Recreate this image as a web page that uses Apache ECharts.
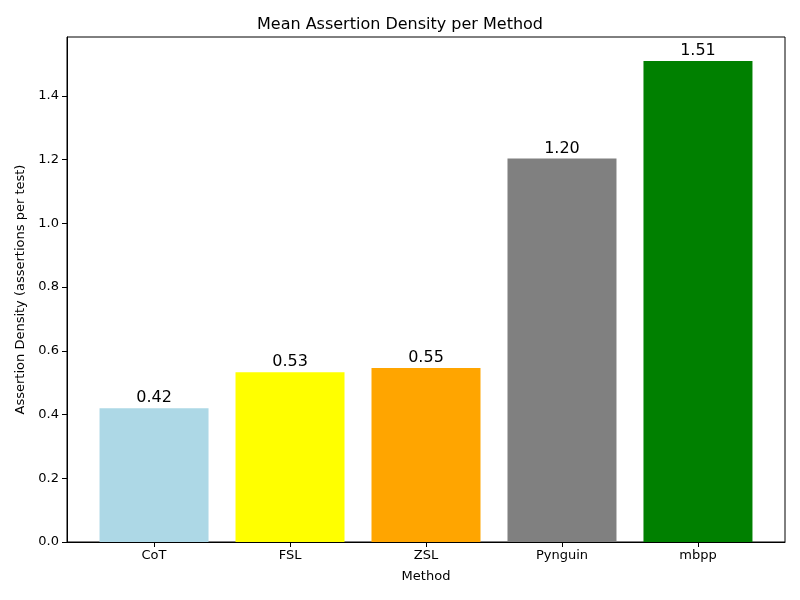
<!DOCTYPE html>
<html>
<head>
<meta charset="utf-8">
<script src="https://cdn.jsdelivr.net/npm/echarts@6/dist/echarts.min.js"></script>
<style>html,body{margin:0;padding:0;background:#fff}#c{width:800px;height:600px}</style>
</head>
<body>
<div id="c"></div>
<script>
const categories = ["CoT", "FSL", "ZSL", "Pynguin", "mbpp"];
const values = [0.42, 0.533, 0.546, 1.204, 1.51];
const colors = ["#add8e6", "#ffff00", "#ffa500", "#808080", "#008000"];
const yTicks = [0, 0.2, 0.4, 0.6, 0.8, 1.0, 1.2, 1.4];

const FONT = "DejaVu Sans";
const chart = echarts.init(document.getElementById('c'), null, {renderer: 'canvas'});
chart.setOption({
  animation: false,
  backgroundColor: '#fff',
  textStyle: {fontFamily: FONT},
  title: {
    text: 'Mean Assertion Density per Method',
    left: 'center', top: 12,
    textStyle: {fontFamily: FONT, fontSize: 16, fontWeight: 'normal', color: '#000'}
  },
  grid: {left: 67, right: 15, top: 37, bottom: 58, show: true, borderColor: '#000', borderWidth: 1, backgroundColor: 'transparent'},
  xAxis: {
    type: 'value', min: -0.64, max: 4.64,
    name: 'Method', nameLocation: 'middle', nameGap: 28,
    nameTextStyle: {fontFamily: FONT, fontSize: 13, color: '#000'},
    axisLine: {show: true, onZero: false, lineStyle: {color: '#000'}},
    axisTick: {show: true, customValues: [0,1,2,3,4], length: 5, lineStyle: {color: '#000'}},
    axisLabel: {show: true, customValues: [0,1,2,3,4], formatter: v => categories[Math.round(v)], fontFamily: FONT, fontSize: 13, color: '#000', margin: 7},
    splitLine: {show: false}
  },
  yAxis: {
    type: 'value', min: 0, max: 1.585,
    name: 'Assertion Density (assertions per test)', nameLocation: 'middle', nameGap: 40,
    nameTextStyle: {fontFamily: FONT, fontSize: 13, color: '#000'},
    axisLine: {show: true, onZero: false, lineStyle: {color: '#000'}},
    axisTick: {show: true, customValues: yTicks, length: 5, lineStyle: {color: '#000'}},
    axisLabel: {show: true, customValues: yTicks, formatter: v => v.toFixed(1), fontFamily: FONT, fontSize: 13, color: '#000', margin: 8},
    splitLine: {show: false}
  },
  series: [{
    type: 'bar',
    barWidth: 109,
    data: values.map((v, i) => ({value: [i, v], itemStyle: {color: colors[i]}})),
    label: {
      show: true, position: 'top', distance: 2,
      formatter: p => p.value[1].toFixed(2),
      fontFamily: FONT, fontSize: 16, color: '#000'
    }
  }]
});
</script>
</body>
</html>
